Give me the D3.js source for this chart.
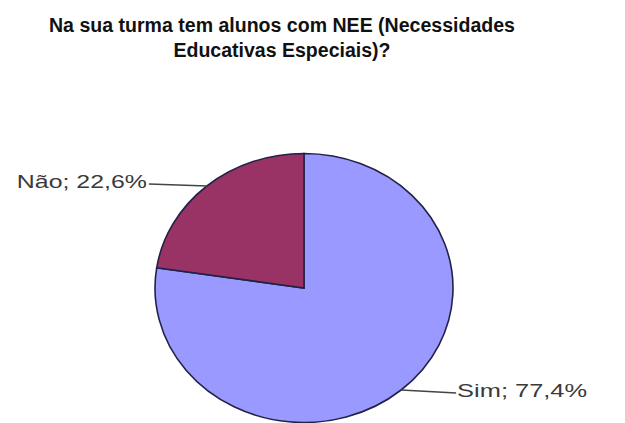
<!DOCTYPE html>
<html>
<head>
<meta charset="utf-8">
<script src="https://cdn.jsdelivr.net/npm/d3@7"></script>
<style>
  html, body { margin: 0; padding: 0; background: #fff; }
  svg { display: block; }
</style>
</head>
<body>
<div id="chart"></div>
<script>
// data
var categories = ["Sim", "Não"];
var percents = [77.4, 22.6];
var colors = ["#9999ff", "#993366"];
var titleLines = ["Na sua turma tem alunos com NEE (Necessidades", "Educativas Especiais)?"];

var width = 625, height = 423;
var cx = 304, cy = 288, rx = 149, ry = 134.5;

var svg = d3.select("#chart").append("svg")
  .attr("width", width)
  .attr("height", height);

// title
var titleFit = [466, 217];
svg.append("g").selectAll("text")
  .data(titleLines)
  .enter().append("text")
  .attr("x", 282)
  .attr("y", function (d, i) { return 32 + i * 25; })
  .attr("text-anchor", "middle")
  .attr("font-family", "Liberation Sans, Arial, sans-serif")
  .attr("font-weight", "bold")
  .attr("font-size", 19.5)
  .attr("fill", "#111")
  .attr("textLength", function (d, i) { return titleFit[i]; })
  .attr("lengthAdjust", "spacingAndGlyphs")
  .text(function (d) { return d; });

var rows = categories.map(function (c, i) {
  return { name: c, value: percents[i], color: colors[i] };
});

var pie = d3.pie().sort(null).value(function (d) { return d.value; });
var arcs = pie(rows);

var arc = d3.arc().innerRadius(0).outerRadius(rx);

// pie is drawn slightly squashed, as in the original
var g = svg.append("g")
  .attr("transform", "translate(" + cx + "," + cy + ") scale(1," + (ry / rx) + ")");

g.selectAll("path")
  .data(arcs)
  .enter().append("path")
  .attr("d", arc)
  .attr("fill", function (d) { return d.data.color; })
  .attr("stroke", "#222248")
  .attr("stroke-width", 1.6)
  .attr("vector-effect", "non-scaling-stroke");

// labels with leader lines
var fmt = function (v) { return v.toFixed(1).replace(".", ","); };
var labels = svg.append("g");

arcs.forEach(function (d) {
  var a = (d.startAngle + d.endAngle) / 2;
  var ex = cx + rx * Math.sin(a);
  var ey = cy - ry * Math.cos(a);
  var right = Math.sin(a) > 0;
  var lx = right ? ex + 55 : ex - 58;
  var ly = right ? ey + 3 : ey - 2;

  labels.append("line")
    .attr("x1", ex).attr("y1", ey)
    .attr("x2", lx).attr("y2", ly)
    .attr("stroke", "#444")
    .attr("stroke-width", 1.5);

  labels.append("text")
    .attr("x", right ? lx + 1 : lx - 2)
    .attr("y", ly + 4)
    .attr("text-anchor", right ? "start" : "end")
    .attr("font-family", "Liberation Sans, Arial, sans-serif")
    .attr("font-size", 18.5)
    .attr("fill", "#3a3a3a")
    .attr("textLength", 130)
    .attr("lengthAdjust", "spacingAndGlyphs")
    .text(d.data.name + "; " + fmt(d.data.value) + "%");
});
</script>
</body>
</html>
